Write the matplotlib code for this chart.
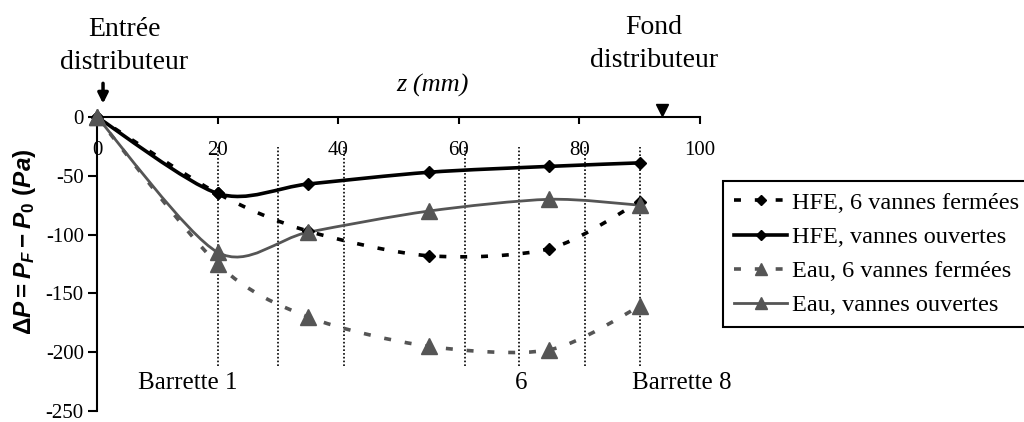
import numpy as np
import matplotlib
matplotlib.use("Agg")
import matplotlib.pyplot as plt
from matplotlib.path import Path
from matplotlib.patches import PathPatch
from matplotlib.lines import Line2D

plt.rcParams['font.family'] = ['Liberation Serif', 'DejaVu Serif']
plt.rcParams['axes.unicode_minus'] = False
plt.rcParams['lines.scale_dashes'] = False
plt.rcParams['mathtext.fontset'] = 'custom'
plt.rcParams['mathtext.rm'] = 'Liberation Sans:bold'
plt.rcParams['mathtext.it'] = 'Liberation Sans:bold:italic'
plt.rcParams['mathtext.bf'] = 'Liberation Sans:bold'

# positions des prises de pression (mm)
z_points = [0, 20, 35, 55, 75, 90]

# perte de pression (Pa)
hfe_fermees = [0, -65, -97, -118, -112, -72]
hfe_ouvertes = [0, -65, -57, -47, -42, -39]
eau_fermees = [0, -125, -170, -195, -198, -161]
eau_ouvertes = [0, -115, -98, -80, -70, -75]

series_labels = ["HFE, 6 vannes fermées", "HFE, vannes ouvertes",
                 "Eau, 6 vannes fermées", "Eau, vannes ouvertes"]

# position des barrettes
barrettes = [20, 30, 41, 61, 70, 81, 90]
barrette_labels = ["Barrette 1", "6", "Barrette 8"]
barrette_label_x = [15, 70.3, 97]

x_ticks = [0, 20, 40, 60, 80, 100]
y_ticks = [0, -50, -100, -150, -200, -250]


def smooth_path(xs, ys, k=1 / 7.):
    # courbe lissee facon Excel (bezier passant par les points)
    pts = np.column_stack([xs, ys]).astype(float)
    n = len(pts)
    verts = [pts[0]]
    codes = [Path.MOVETO]
    for i in range(n - 1):
        p_prev = pts[max(i - 1, 0)]
        p0 = pts[i]
        p1 = pts[i + 1]
        p_next = pts[min(i + 2, n - 1)]
        verts += [p0 + (p1 - p_prev) * k, p1 - (p_next - p0) * k, p1]
        codes += [Path.CURVE4] * 3
    return Path(verts, codes)


gray = '#555555'
styles = [
    dict(color='black', ls=(0, (5, 10)), lw=2.6, marker='D', ms=6.5),
    dict(color='black', ls='-', lw=2.6, marker='D', ms=6.5),
    dict(color=gray, ls=(0, (5, 10)), lw=2.6, marker='^', ms=11),
    dict(color=gray, ls='-', lw=2.0, marker='^', ms=11),
]
all_series = [hfe_fermees, hfe_ouvertes, eau_fermees, eau_ouvertes]

fig = plt.figure(figsize=(10.24, 4.22), dpi=100)
ax = fig.add_axes([97 / 1024, 11 / 422, 603 / 1024, 294 / 422])

ax.vlines(barrettes, -212, -25.5, colors='black', linestyles=(0, (1.2, 1.5)), lw=1.2)

handles = []
for vals, st, lab in zip(all_series, styles, series_labels):
    patch = PathPatch(smooth_path(z_points, vals), fill=False, edgecolor=st['color'],
                      lw=st['lw'], linestyle=st['ls'], capstyle='butt', zorder=3)
    ax.add_patch(patch)
    ax.plot(z_points, vals, ls='none', marker=st['marker'], ms=st['ms'],
            color=st['color'], clip_on=False, zorder=4)
    handles.append(Line2D([], [], color=st['color'], ls=st['ls'], lw=st['lw'],
                          marker=st['marker'], ms=st['ms'] * 0.85))

ax.set_xlim(0, 100)
ax.set_ylim(-250, 0)
ax.spines['top'].set_visible(False)
ax.spines['right'].set_visible(False)
ax.spines['bottom'].set_position(('data', 0))
ax.spines['bottom'].set_linewidth(1.5)
ax.spines['left'].set_linewidth(1.5)
ax.set_xticks(x_ticks)
ax.set_yticks(y_ticks)
ax.set_xticklabels([str(t) for t in x_ticks])
ax.set_yticklabels([str(t) for t in y_ticks])
ax.tick_params(axis='x', direction='out', length=5, width=1.5, pad=12, labelsize=15)
ax.tick_params(axis='y', direction='out', length=6.5, width=1.5, pad=3, labelsize=15)

for lab, xl in zip(barrette_labels, barrette_label_x):
    ax.text(xl, -226, lab, fontsize=18, ha='center', va='center')

# entree / fond du distributeur
ax.annotate('', xy=(1, 9), xytext=(1, 31), annotation_clip=False,
            arrowprops=dict(arrowstyle='-|>', color='black', lw=2.5, mutation_scale=15))
ax.plot([93.7], [6], marker='v', ms=8, color='black', clip_on=False)

fig.text(124 / 1024, 1 - 46 / 422, "Entrée\ndistributeur", fontsize=20,
         ha='center', va='center', linespacing=1.4)
fig.text(654 / 1024, 1 - 44 / 422, "Fond\ndistributeur", fontsize=20,
         ha='center', va='center', linespacing=1.4)
fig.text(432 / 1024, 1 - 85 / 422, "z (mm)", fontsize=19, style='italic',
         ha='center', va='center')
fig.text(25 / 1024, 1 - 242 / 422, r'$\Delta P = P_F - P_0\ (Pa)$', fontsize=17.5,
         rotation=90, ha='center', va='center')

leg = fig.legend(handles, series_labels, loc='upper left',
                 bbox_to_anchor=(723 / 1024, 1 - 181 / 422), fontsize=17.5,
                 frameon=True, fancybox=False, edgecolor='black', framealpha=1,
                 handlelength=2.2, handletextpad=0.2, labelspacing=0.5,
                 borderpad=0.45, borderaxespad=0)
leg.get_frame().set_linewidth(1.5)

fig.savefig('out.png', dpi=100)
